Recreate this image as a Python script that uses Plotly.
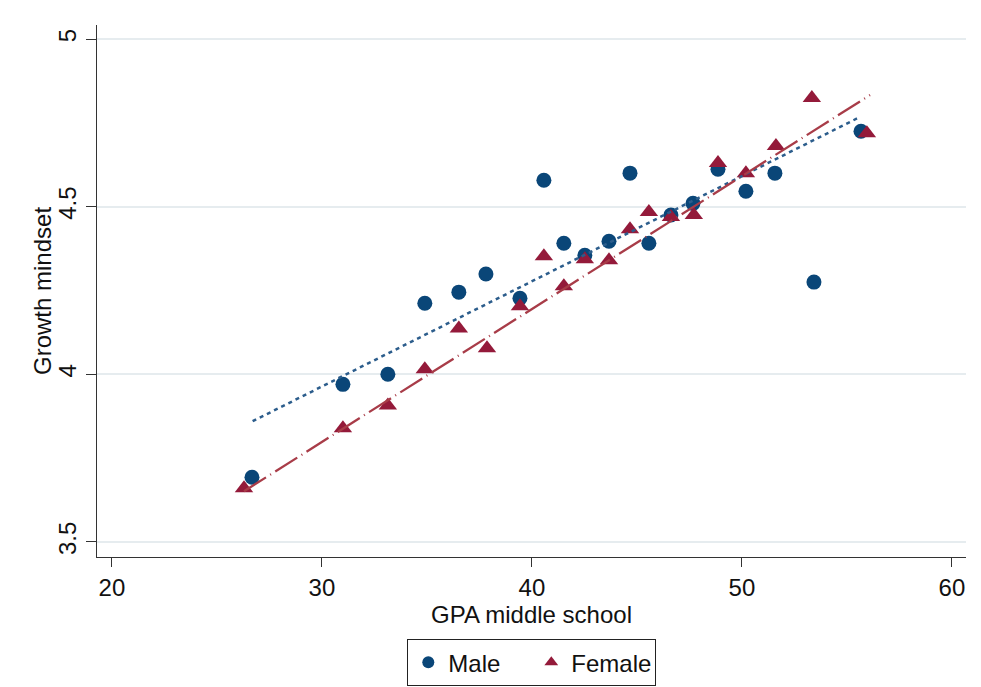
import plotly.graph_objects as go

# ---- data ----
male_gpa = [26.67, 31.0, 33.14, 34.9, 36.52, 37.81, 39.43, 40.57, 41.52, 42.52,
            43.67, 44.67, 45.57, 46.62, 47.67, 48.86, 50.19, 51.57, 53.43, 55.67]
male_gm = [3.693, 3.970, 4.000, 4.212, 4.245, 4.299, 4.227, 4.579, 4.391, 4.355,
           4.397, 4.600, 4.391, 4.475, 4.510, 4.612, 4.546, 4.600, 4.275, 4.725]

female_gpa = [26.29, 31.0, 33.14, 34.9, 36.52, 37.86, 39.43, 40.57, 41.52, 42.52,
              43.67, 44.67, 45.57, 46.62, 47.71, 48.86, 50.19, 51.62, 53.33, 55.95]
female_gm = [3.660, 3.839, 3.907, 4.015, 4.137, 4.078, 4.203, 4.352, 4.263, 4.343,
             4.340, 4.433, 4.484, 4.469, 4.475, 4.630, 4.600, 4.681, 4.824, 4.719]

male_fit_x = [26.7, 55.6]
male_fit_y = [3.860, 4.767]
female_fit_x = [26.29, 56.1]
female_fit_y = [3.651, 4.833]

x_ticks = [20, 30, 40, 50, 60]
y_ticks = [3.5, 4, 4.5, 5]
y_tick_labels = ["3.5", "4", "4.5", "5"]

NAVY = "#0a4678"
MAROON = "#941a3a"
FONT = "Liberation Sans, Arial, sans-serif"
FS = 24

fig = go.Figure()
fig.add_trace(go.Scatter(x=male_gpa, y=male_gm, mode="markers", name="Male",
                         marker=dict(symbol="circle", size=15, color=NAVY)))
fig.add_trace(go.Scatter(x=female_gpa, y=female_gm, mode="markers", name="Female",
                         marker=dict(symbol="triangle-up", size=16, color=MAROON)))
fig.add_trace(go.Scatter(x=male_fit_x, y=male_fit_y, mode="lines", showlegend=False,
                         line=dict(color="#2c5d8c", width=2.5, dash="4px,4px")))
fig.add_trace(go.Scatter(x=female_fit_x, y=female_fit_y, mode="lines", showlegend=False,
                         line=dict(color="#a83c48", width=2.3, dash="26px,5px,1px,5px")))

fig.update_layout(
    width=981, height=687,
    margin=dict(l=97, r=15, t=25, b=130, autoexpand=False),
    paper_bgcolor="white", plot_bgcolor="white",
    font=dict(family=FONT, size=FS, color="#111111"),
    showlegend=True,
    legend=dict(orientation="h", x=0.5, xanchor="center", y=-0.154, yanchor="top",
                bordercolor="#222222", borderwidth=1.3, font=dict(size=FS),
                itemsizing="constant", entrywidth=78, entrywidthmode="pixels"),
    xaxis=dict(range=[19.29, 60.67], tickmode="array", tickvals=x_ticks,
               showgrid=False, zeroline=False, showline=True, linecolor="#333333",
               linewidth=1.3, ticks="outside", ticklen=9, tickcolor="#333333",
               tickfont=dict(size=FS),
               title=dict(text="GPA middle school", font=dict(size=FS), standoff=0)),
    yaxis=dict(range=[3.455, 5.042], tickmode="array", tickvals=y_ticks,
               ticktext=y_tick_labels, tickangle=-90,
               showgrid=True, gridcolor="#e6ecef", gridwidth=1.5,
               zeroline=False, showline=True, linecolor="#333333",
               linewidth=1.3, ticks="outside", ticklen=10, tickcolor="#333333",
               tickfont=dict(size=FS)),
    annotations=[dict(text="Growth mindset", textangle=-90, xref="paper", yref="paper",
                      x=-0.0633, y=0.5, xanchor="center", yanchor="middle",
                      showarrow=False, font=dict(size=FS, family=FONT, color="#111111"))],
)

fig.write_html("out.html")
